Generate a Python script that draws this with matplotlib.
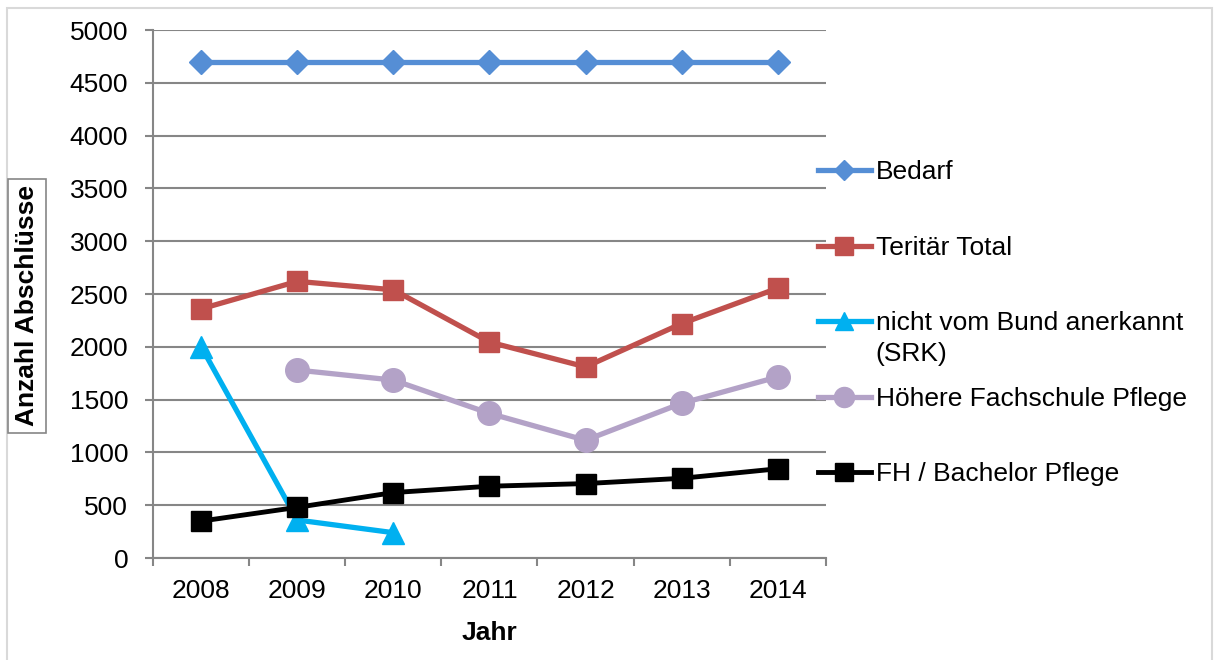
import matplotlib.pyplot as plt
from matplotlib.patches import Rectangle

plt.rcParams["font.family"] = ["Liberation Sans", "DejaVu Sans"]

years = ["2008", "2009", "2010", "2011", "2012", "2013", "2014"]

bedarf = [4700, 4700, 4700, 4700, 4700, 4700, 4700]
teritaer_total = [2360, 2620, 2540, 2045, 1810, 2220, 2555]
srk = [2000, 360, 240]  # only 2008-2010
hf_pflege = [1780, 1685, 1370, 1115, 1465, 1715]  # 2009-2014
fh_bachelor = [350, 480, 620, 680, 705, 755, 845]

labels = [
    "Bedarf",
    "Teritär Total",
    "nicht vom Bund anerkannt",
    "Höhere Fachschule Pflege",
    "FH / Bachelor Pflege",
]
srk_suffix = "(SRK)"

x = list(range(len(years)))
fs = 19

fig = plt.figure(figsize=(12.16, 6.6), dpi=100)
ax = fig.add_axes([0.126, 0.1545, 0.553, 0.80])

ax.plot(x, bedarf, color="#558ED5", lw=3.8, marker="D", ms=12, label=labels[0])
ax.plot(x, teritaer_total, color="#C0504D", lw=3.8, marker="s", ms=15, label=labels[1])
ax.plot(x[:3], srk, color="#00B0F0", lw=3.8, marker="^", ms=16, label=labels[2])
ax.plot(x[1:], hf_pflege, color="#B3A2C7", lw=3.8, marker="o", ms=17, label=labels[3])
ax.plot(x, fh_bachelor, color="black", lw=3.5, marker="s", ms=15, label=labels[4])

ax.set_ylim(0, 5000)
ax.set_yticks(range(0, 5001, 500))
ax.set_xlim(-0.5, 6.5)
ax.set_xticks(x)
ax.set_xticklabels(years)
ax.set_xticks([i - 0.5 for i in range(8)], minor=True)
ax.tick_params(axis="x", which="major", length=0, pad=15, labelsize=fs)
ax.tick_params(axis="x", which="minor", length=6, color="#868686", width=1.5)
ax.tick_params(axis="y", length=6, color="#868686", width=1.5, labelsize=fs, pad=12)
ax.yaxis.grid(True, color="#868686", lw=1.5)
ax.set_axisbelow(True)
for s in ["top", "right"]:
    ax.spines[s].set_visible(False)
for s in ["left", "bottom"]:
    ax.spines[s].set_color("#868686")
    ax.spines[s].set_linewidth(1.5)

ax.set_xlabel("Jahr", fontsize=fs, fontweight="bold", labelpad=13)
fig.text(0.0222, 0.5364, "Anzahl Abschlüsse", rotation=90, fontsize=fs,
         fontweight="bold", ha="center", va="center",
         bbox=dict(boxstyle="square,pad=0.25", fc="white", ec="#868686", lw=1.2))

leg = ax.legend(loc="upper left", bbox_to_anchor=(0.653, 0.793),
                bbox_transform=fig.transFigure, frameon=False, fontsize=fs,
                handlelength=2.0, handletextpad=0.2, labelspacing=1.95,
                markerscale=0.85)

# second line of the SRK legend entry
fig.canvas.draw()
bb = leg.get_texts()[2].get_window_extent()
fig.text(bb.x0, bb.y0 - 7, srk_suffix, fontsize=fs, ha="left", va="top",
         transform=None)

fig.add_artist(Rectangle((0.006, -0.01), 0.991, 0.998, transform=fig.transFigure,
                         fill=False, ec="#D9D9D9", lw=1.5))

fig.savefig("out.png", dpi=100)
